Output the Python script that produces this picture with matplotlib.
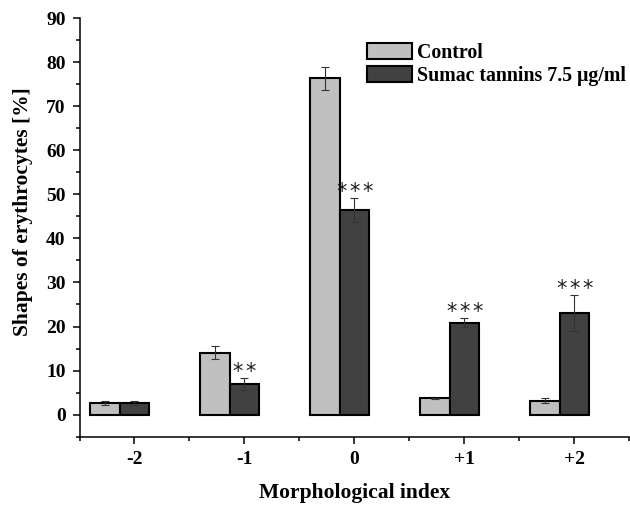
import numpy as np
import matplotlib
matplotlib.use("Agg")
from matplotlib import pyplot as plt

plt.rcParams['font.family'] = ['Liberation Serif', 'DejaVu Serif']
plt.rcParams['font.weight'] = 'bold'

# data
categories = ['-2', '-1', '0', '+1', '+2']
control = [2.7, 14.1, 76.3, 3.7, 3.2]
control_err = [0.5, 1.4, 2.6, 0.15, 0.6]
sumac = [2.7, 7.0, 46.4, 20.9, 23.1]
sumac_err = [0.4, 1.4, 2.7, 1.0, 4.0]
stars = [0, 2, 3, 3, 3]

x = np.arange(len(categories)) - 2
w = 0.27

fig = plt.figure(figsize=(6.3, 5.09), dpi=100)
ax = fig.add_axes([0.1262, 0.142, 0.8728, 0.8226])

ax.bar(x - w, control, w, color='#c0c0c0', edgecolor='black', linewidth=1.5,
       label='Control', zorder=2)
ax.bar(x, sumac, w, color='#414141', edgecolor='black', linewidth=1.5,
       label='Sumac tannins 7.5 \u03bcg/ml', zorder=2)
ax.errorbar(x - w, control, yerr=control_err, fmt='none', ecolor='#333333',
            elinewidth=0.8, capsize=3, capthick=0.8, zorder=3)
ax.errorbar(x, sumac, yerr=sumac_err, fmt='none', ecolor='#333333',
            elinewidth=0.8, capsize=3, capthick=0.8, zorder=3)

# significance marks above the treated bars, one star at a time
for xi, v, e, n in zip(x, sumac, sumac_err, stars):
    for i in range(n):
        dx = (i - (n - 1) / 2) * 9.4
        ax.annotate('*', (xi, v + e), xytext=(dx, 0), textcoords='offset points',
                    ha='center', va='baseline', fontsize=15, fontweight='normal',
                    color='#1e1e1e', family='DejaVu Sans')

ax.set_xlim(-2.5, 2.5)
ax.set_ylim(-5, 90)
ax.set_xticks(x)
ax.set_xticklabels(categories)
ax.set_xticks(np.arange(-2.5, 3.0, 1.0), minor=True)
ax.set_yticks(np.arange(0, 91, 10))
ax.set_yticks(np.arange(-5, 91, 5), minor=True)

for side in ['top', 'right']:
    ax.spines[side].set_visible(False)
for side in ['left', 'bottom']:
    ax.spines[side].set_linewidth(1.1)
ax.tick_params(axis='both', which='major', length=5, width=1.1, labelsize=14, pad=5)
ax.tick_params(axis='both', which='minor', length=3, width=1.1)

ax.set_ylabel('Shapes of erythrocytes [%]', fontsize=15.5, fontweight='bold')
ax.yaxis.set_label_coords(-0.085, 0.537)
ax.set_xlabel('Morphological index', fontsize=15.5, fontweight='bold')
ax.xaxis.set_label_coords(0.5, -0.11)

ax.legend(loc='upper left', bbox_to_anchor=(0.523, 0.941), frameon=False,
          fontsize=14.3, handlelength=2.25, handleheight=0.9, handletextpad=0.25,
          labelspacing=0.15, borderaxespad=0, borderpad=0)

fig.savefig('out.png', dpi=100)
